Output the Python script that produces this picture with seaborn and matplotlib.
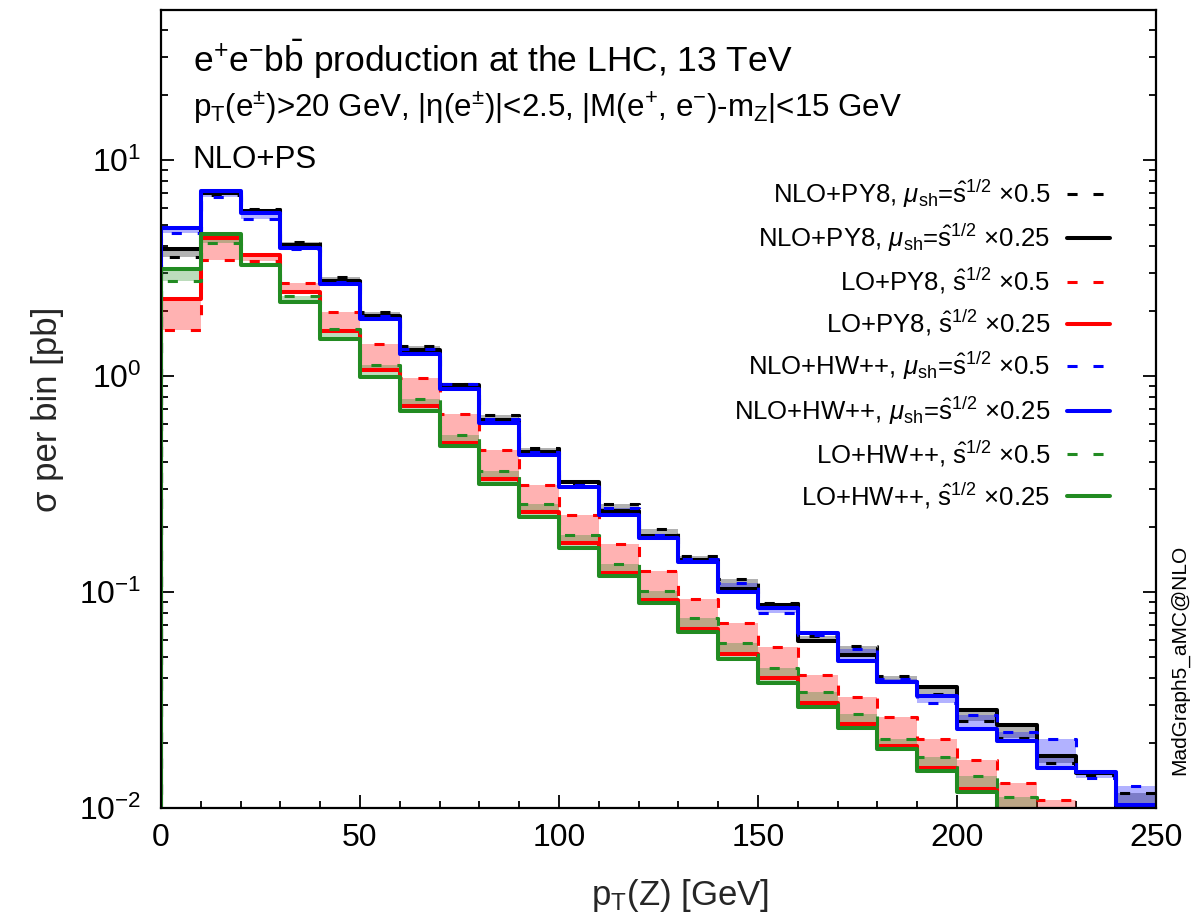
import matplotlib
matplotlib.use("Agg")
import matplotlib.pyplot as plt
import numpy as np
import pandas as pd
import seaborn as sns
from matplotlib.lines import Line2D
from matplotlib.ticker import LogLocator, MultipleLocator, NullFormatter

# pT(Z) bins: 25 bins of 10 GeV from 0 to 250
bin_edges = list(range(0, 260, 10))

# cross section per bin [pb]
nlo_py8_half = [3.54, 6.85, 5.95, 4.17, 2.88, 1.97, 1.38, 0.92, 0.66, 0.463, 0.318, 0.255, 0.196,
                0.146, 0.115, 0.089, 0.0626, 0.0564, 0.0408, 0.0338, 0.0254, 0.0210, 0.0161, 0.0142, 0.0117]
nlo_py8_quarter = [3.87, 7.05, 5.80, 4.04, 2.76, 1.90, 1.32, 0.91, 0.626, 0.446, 0.324, 0.237, 0.181,
                   0.141, 0.103, 0.0867, 0.0593, 0.051, 0.0384, 0.0365, 0.0285, 0.0242, 0.0174, 0.0145, 0.0101]
lo_py8_half = [1.64, 3.43, 3.41, 2.69, 1.97, 1.40, 0.975, 0.669, 0.456, 0.314, 0.227, 0.166, 0.125,
               0.093, 0.0716, 0.0555, 0.0414, 0.0328, 0.0265, 0.0208, 0.0167, 0.0131, 0.0109, 0.0098, 0.0085]
lo_py8_quarter = [2.28, 4.34, 3.64, 2.46, 1.62, 1.07, 0.726, 0.491, 0.335, 0.234, 0.168, 0.123, 0.092,
                  0.0676, 0.0514, 0.0398, 0.0305, 0.0244, 0.0194, 0.0153, 0.0123, 0.0095, 0.0082, 0.0070, 0.0060]
nlo_hw_half = [4.57, 6.76, 5.35, 3.88, 2.73, 1.90, 1.33, 0.92, 0.63, 0.446, 0.314, 0.244, 0.184,
               0.142, 0.110, 0.0797, 0.0632, 0.0545, 0.0394, 0.0305, 0.0270, 0.0226, 0.0209, 0.0138, 0.0127]
nlo_hw_quarter = [4.83, 7.18, 5.66, 3.90, 2.67, 1.83, 1.26, 0.87, 0.608, 0.431, 0.305, 0.227, 0.177,
                  0.138, 0.0996, 0.084, 0.0644, 0.048, 0.0384, 0.0331, 0.0232, 0.0205, 0.0153, 0.0147, 0.0103]
lo_hw_half = [2.74, 4.13, 3.30, 2.35, 1.65, 1.13, 0.78, 0.533, 0.365, 0.255, 0.183, 0.135, 0.101,
              0.076, 0.0582, 0.0447, 0.0343, 0.0272, 0.0209, 0.0173, 0.0140, 0.0113, 0.0094, 0.0080, 0.0070]
lo_hw_quarter = [3.12, 4.54, 3.27, 2.20, 1.48, 0.99, 0.69, 0.474, 0.316, 0.223, 0.159, 0.119, 0.089,
                 0.065, 0.0488, 0.0378, 0.0293, 0.0234, 0.0187, 0.0149, 0.0118, 0.0090, 0.0078, 0.0066, 0.0056]

labels = [
    r"NLO+PY8, $\mu_{\rm sh}$=$\hat{\rm s}^{1/2}$ ×0.5",
    r"NLO+PY8, $\mu_{\rm sh}$=$\hat{\rm s}^{1/2}$ ×0.25",
    r"LO+PY8, $\hat{\rm s}^{1/2}$ ×0.5",
    r"LO+PY8, $\hat{\rm s}^{1/2}$ ×0.25",
    r"NLO+HW++, $\mu_{\rm sh}$=$\hat{\rm s}^{1/2}$ ×0.5",
    r"NLO+HW++, $\mu_{\rm sh}$=$\hat{\rm s}^{1/2}$ ×0.25",
    r"LO+HW++, $\hat{\rm s}^{1/2}$ ×0.5",
    r"LO+HW++, $\hat{\rm s}^{1/2}$ ×0.25",
]

sns.set_theme(style="ticks")
plt.rcParams["font.family"] = ["Liberation Sans", "DejaVu Sans"]
plt.rcParams.update({
    "mathtext.fontset": "custom",
    "mathtext.rm": "Liberation Sans",
    "mathtext.it": "Liberation Sans:italic",
    "mathtext.bf": "Liberation Sans:bold",
    "mathtext.sf": "Liberation Sans",
    "axes.unicode_minus": False,
    "axes.edgecolor": "black",
    "text.color": "black",
    "xtick.color": "black",
    "ytick.color": "black",
})

fig = plt.figure(figsize=(11.94, 9.23), dpi=100)
ax = fig.add_axes([0.1348, 0.1246, 0.8333, 0.8646])
ax.set_yscale("log")
ax.set_xlim(0, 250)
ax.set_ylim(0.01, 49.5)

series = [
    (nlo_py8_half, "black", True),
    (nlo_py8_quarter, "black", False),
    (lo_py8_half, "red", True),
    (lo_py8_quarter, "red", False),
    (nlo_hw_half, "blue", True),
    (nlo_hw_quarter, "blue", False),
    (lo_hw_half, "forestgreen", True),
    (lo_hw_quarter, "forestgreen", False),
]

dash_pattern = (0, (3.3, 5.2))
solid_lw = 2.9
dash_lw = 2.2

# uncertainty bands between the two shower-scale choices
for i in range(0, len(series), 2):
    lo_vals, color, _ = series[i]
    hi_vals = series[i + 1][0]
    ax.fill_between(bin_edges, lo_vals + [lo_vals[-1]], hi_vals + [hi_vals[-1]],
                    step="post", color=color, alpha=0.3, lw=0, zorder=1)

# histogram outlines, starting from the floor at pT = 0
for vals, color, dashed in series:
    df = pd.DataFrame({
        "pt": [bin_edges[0]] + bin_edges,
        "sigma": [1e-4] + vals + [vals[-1]],
    })
    sns.lineplot(data=df, x="pt", y="sigma", ax=ax, color=color,
                 lw=dash_lw if dashed else solid_lw,
                 linestyle=dash_pattern if dashed else "-",
                 drawstyle="steps-post", sort=False, estimator=None,
                 legend=False, zorder=3)

handles = [Line2D([], [], color=c, lw=dash_lw if d else solid_lw,
                  linestyle=dash_pattern if d else "-")
           for _, c, d in series]
ax.legend(handles, labels, loc="upper right", bbox_to_anchor=(0.954, 0.79),
          markerfirst=False, frameon=False, fontsize=18.5, handlelength=1.67,
          handletextpad=0.66, labelspacing=0.47, borderpad=0, borderaxespad=0)

# axes, ticks
ax.xaxis.set_major_locator(MultipleLocator(50))
ax.xaxis.set_minor_locator(MultipleLocator(10))
ax.yaxis.set_major_locator(LogLocator(base=10))
ax.yaxis.set_minor_locator(LogLocator(base=10, subs=np.arange(2, 10)))
ax.yaxis.set_minor_formatter(NullFormatter())
ax.tick_params(which="both", direction="in", right=True, top=False, width=1.3,
               labelsize=23)
ax.tick_params(which="major", length=9.5)
ax.tick_params(which="minor", length=5)
ax.tick_params(axis="x", pad=11)
ax.tick_params(axis="y", pad=14)
for s in ax.spines.values():
    s.set_linewidth(1.6)
    s.set_zorder(5)

ax.set_xlabel(r"p$_{\rm T}$(Z) [GeV]", fontsize=25)
ax.set_ylabel(r"σ per bin [pb]", fontsize=25)
ax.xaxis.set_label_coords(0.522, -0.086)
ax.yaxis.set_label_coords(-0.097, 0.5)

# process and cut annotations
ax.text(0.032, 0.922, r"e$^{+}$e$^{-}$b$\bar{\rm b}$ production at the LHC, 13 TeV",
        transform=ax.transAxes, fontsize=25.5, va="baseline")
ax.text(0.032, 0.866,
        r"p$_{\rm T}$(e$^{\pm}$)>20 GeV, |η(e$^{\pm}$)|<2.5, |M(e$^{+}$, e$^{-}$)-m$_{\rm Z}$|<15 GeV",
        transform=ax.transAxes, fontsize=22.5, va="baseline")
ax.text(0.032, 0.802, "NLO+PS", transform=ax.transAxes, fontsize=22.5, va="baseline")

fig.text(1180 / 1194, 1 - 660 / 923, "MadGraph5_aMC@NLO", rotation=90,
         ha="center", va="center", fontsize=15)

fig.savefig("out.png", dpi=100, facecolor="white")
